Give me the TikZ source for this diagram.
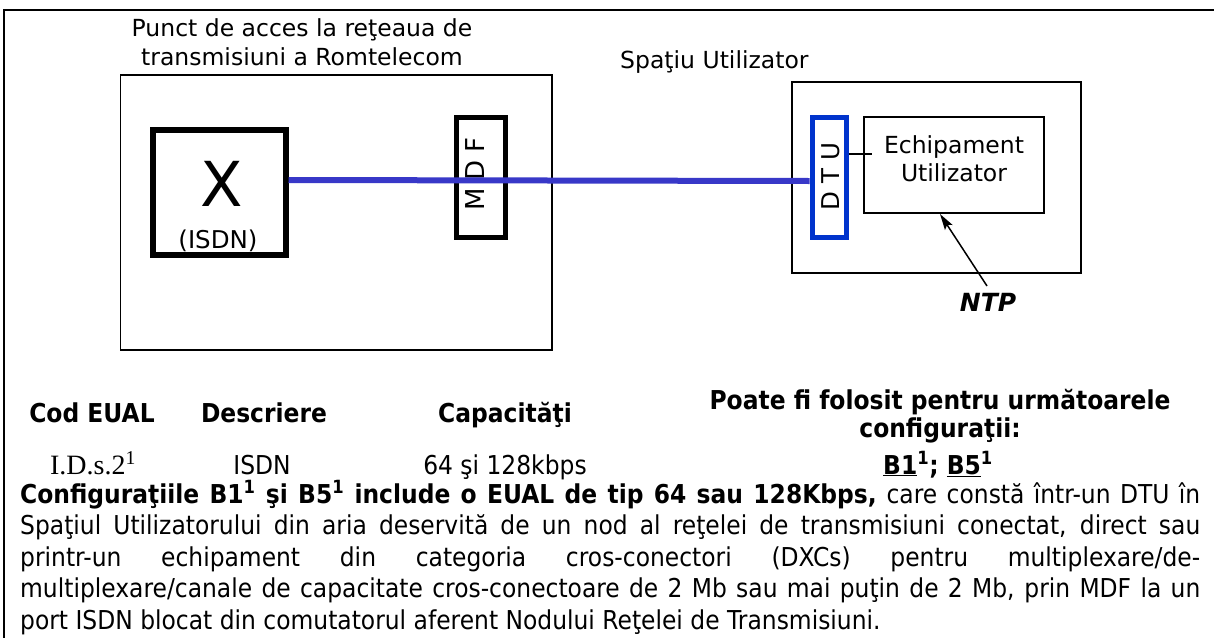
\documentclass[tikz,border=0pt]{standalone}
\usepackage{fontspec}
\setmainfont{DejaVu Sans}
\newfontfamily\diagfont{DejaVu Sans}
\newfontfamily\tahfont{DejaVu Sans}[FakeStretch=0.9]
\newfontfamily\tmsfont{Liberation Serif}
\usetikzlibrary{arrows.meta}
\newcommand\setsz[2]{\fontsize{#1}{#2}\selectfont}
\definecolor{linkblue}{RGB}{56,56,200}
\definecolor{dtublue}{RGB}{0,51,204}
\begin{document}
\begin{tikzpicture}[x=1pt,y=-1pt,
  thinbox/.style={draw=black,line width=1.5pt,inner sep=0pt,fill=none},
  heavybox/.style={draw=black,line width=6pt,inner sep=0pt},
  mdfbox/.style={draw=black,line width=5pt,inner sep=0pt},
  dtubox/.style={draw=dtublue,line width=5pt,inner sep=0pt},
  diag/.style={font=\diagfont\setsz{23.5}{29},inner sep=0pt},
  tab/.style={font=\tahfont\setsz{26}{31},inner sep=0pt},
  tabb/.style={font=\tahfont\bfseries\setsz{26}{31},inner sep=0pt},
  para/.style={font=\tahfont\setsz{26}{31},inner sep=0pt,anchor=base west},
  link/.style={draw=linkblue,line width=6pt},
  thin/.style={draw=black,line width=1.5pt}]
\useasboundingbox (0,0) rectangle (1214,637);
% outer frame
\draw[line width=2.5pt] (4,640) -- (4,10) -- (1216,10);
% access point box
\node[diag,anchor=base] (t1) at (302,36) {Punct de acces la reţeaua de};
\node[diag,anchor=base] (t2) at (302,65) {transmisiuni a Romtelecom};
\node[thinbox,minimum width=431.5pt,minimum height=275pt] (acc) at (336.25,212.5) {};
\node[heavybox,minimum width=132.5pt,minimum height=125pt] (xbox) at (219.25,192.5) {};
\node[font=\diagfont\setsz{62}{70},inner sep=0pt] (xlab) at (221.5,184) {X};
\node[font=\diagfont\setsz{24.5}{29},inner sep=0pt] (isdnlab) at (218,241) {(ISDN)};
\node[mdfbox,minimum width=48.5pt,minimum height=120pt] (mdf) at (480.75,177.5) {};
\node[font=\diagfont\setsz{26}{29},inner sep=0pt,rotate=90] (mdflab) at (475,174) {M D F};
% user space
\node[diag,anchor=base west] (sp) at (620,68) {Spaţiu Utilizator};
\node[thinbox,minimum width=289pt,minimum height=191pt] (user) at (936.5,177.5) {};
\node[thinbox,minimum width=180pt,minimum height=96pt] (equip) at (954,165) {};
\node[diag,anchor=base] (eq1) at (954,153) {Echipament};
\node[diag,anchor=base] (eq2) at (954,181) {Utilizator};
\node[dtubox,minimum width=34pt,minimum height=120pt] (dtu) at (829,177.5) {};
\node[font=\diagfont\setsz{24.5}{29},inner sep=0pt,rotate=90] (dtulab) at (831,176.5) {D T U};
% connectors
\coordinate (lineL) at (0,180);
\coordinate (lineR) at (0,181);
\draw[link] (xbox.east |- lineL) -- (dtu.west |- lineR);
\coordinate (stubY) at (0,154);
\coordinate (stubEnd) at (872,154);
\draw[thin] (dtu.east |- stubY) -- (stubEnd);
\node[font=\diagfont\bfseries\itshape\setsz{25}{29},inner sep=0pt,anchor=base] (ntp) at (988,311) {NTP};
\coordinate (ntpTip) at (940,214);
\coordinate (ntpTail) at (987,286);
\draw[thin,-{Stealth[length=16pt,width=9pt,inset=3pt]}] (ntpTail) -- (ntpTip);
% table header
\node[tabb,anchor=base] (h1) at (92,422) {Cod EUAL};
\node[tabb,anchor=base] (h2) at (264,422) {Descriere};
\node[tabb,anchor=base] (h3) at (505,422) {Capacităţi};
\node[tabb,anchor=base] (h4a) at (940,409) {Poate fi folosit pentru următoarele};
\node[tabb,anchor=base] (h4b) at (940,437) {configuraţii:};
% table row
\node[font=\tmsfont\setsz{28}{32},inner sep=0pt,anchor=base] (r1) at (93,474) {I.D.s.2\textsuperscript{1}};
\node[tab,anchor=base] (r2) at (262,474) {ISDN};
\node[tab,anchor=base] (r3) at (505,474) {64 şi 128kbps};
\node[tabb,anchor=base] (r4) at (938,474) {\underline{B1}\textsuperscript{1}; \underline{B5}\textsuperscript{1}};
% paragraph
\node[para] (p1) at (20,503) {\hbox to 1180pt{{\bfseries Configuraţiile B1\textsuperscript{1} şi B5\textsuperscript{1} include o EUAL de tip 64 sau 128Kbps,} care constă într-un DTU în}};
\node[para] (p2) at (20,534.5) {\hbox to 1180pt{Spaţiul Utilizatorului din aria deservită de un nod al reţelei de transmisiuni conectat, direct sau}};
\node[para] (p3) at (20,566) {\hbox to 1180pt{printr-un echipament din categoria cros-conectori (DXCs) pentru multiplexare/de-}};
\node[para] (p4) at (20,597.5) {\hbox to 1180pt{multiplexare/canale de capacitate cros-conectoare de 2 Mb sau mai puţin de 2 Mb, prin MDF la un}};
\node[para] (p5) at (20,629) {port ISDN blocat din comutatorul aferent Nodului Reţelei de Transmisiuni.};
\end{tikzpicture}
\end{document}
